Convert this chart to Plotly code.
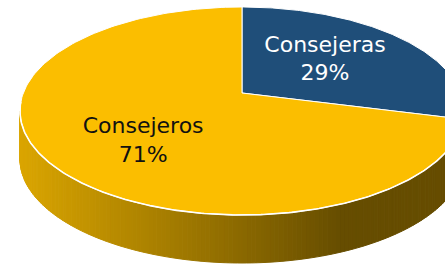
import numpy as np
import plotly.graph_objects as go

# ---- data ----
labels = ["Consejeras", "Consejeros"]
values = [29, 71]
slice_colors = ["#1F4E79", "#FBBE00"]
text_colors = ["#FFFFFF", "#111111"]

# ---- 3D pie geometry (style) ----
CX, CY = 242.0, 93.0      # projected pie centre
A, B = 218.7, 100.9       # horizontal / vertical radii before perspective
G = 0.173                 # perspective strength
DEPTH = 48.0              # thickness of the pie
LABEL_R = [0.5, 0.56]
LABEL_NUDGE = [(1.0, -3.0), (4.0, 12.0)]


def proj(theta_deg, r=1.0):
    t = np.radians(theta_deg)
    u = r * np.sin(t)
    v = -r * np.cos(t)
    w = 1.0 - G * v
    return CX + A * u / w, CY + B * v / w


def hex_rgb(h):
    h = h.lstrip("#")
    return tuple(int(h[i:i + 2], 16) for i in (0, 2, 4))


def shade(hexcol, x):
    f0, f1 = 0.87, 0.41
    k = np.clip((x - 22.0) / (340.0 - 22.0), 0, 1)
    f = f0 + (f1 - f0) * k
    r, g, b = hex_rgb(hexcol)
    return "rgb(%d,%d,%d)" % (r * f, g * f, b * f)


total = float(sum(values))
bounds = np.concatenate([[0.0], np.cumsum(values) / total * 360.0])


def slice_of(theta):
    th = theta % 360.0
    for i in range(len(values)):
        if bounds[i] <= th < bounds[i + 1]:
            return i
    return len(values) - 1


fig = go.Figure()

# ---- side wall (front half), drawn as shaded strips ----
t_right = np.degrees(np.arccos(-G))
t_left = 360.0 - t_right
edges = np.linspace(t_right, t_left, 161)
for t0, t1 in zip(edges[:-1], edges[1:]):
    x0, y0 = proj(t0)
    x1, y1 = proj(t1)
    idx = slice_of((t0 + t1) / 2)
    col = shade(slice_colors[idx], (x0 + x1) / 2)
    fig.add_trace(go.Scatter(
        x=[x0, x1, x1, x0, x0], y=[y0, y1, y1 + DEPTH, y0 + DEPTH, y0],
        mode="lines", fill="toself", fillcolor=col,
        line=dict(color=col, width=1), hoverinfo="skip"))

# ---- top slices ----
for i in range(len(values)):
    ts = np.linspace(bounds[i], bounds[i + 1], 200)
    xs, ys = proj(ts)
    xs = np.concatenate([[CX], xs, [CX]])
    ys = np.concatenate([[CY], ys, [CY]])
    fig.add_trace(go.Scatter(
        x=xs, y=ys, mode="lines", fill="toself",
        fillcolor=slice_colors[i], line=dict(color="white", width=1),
        hoverinfo="skip"))

# white rim between top face and wall
ts = np.linspace(t_right - 20, t_left + 5, 300)
xs, ys = proj(ts)
fig.add_trace(go.Scatter(x=xs, y=ys, mode="lines",
                         line=dict(color="white", width=1.6), hoverinfo="skip"))

# ---- labels ----
for i in range(len(values)):
    mid = (bounds[i] + bounds[i + 1]) / 2
    lx, ly = proj(mid, LABEL_R[i])
    lx += LABEL_NUDGE[i][0]
    ly += LABEL_NUDGE[i][1]
    fig.add_trace(go.Scatter(
        x=[lx], y=[ly], mode="text",
        text=["%s<br>%d%%" % (labels[i], round(values[i] / total * 100))],
        textposition="middle center",
        textfont=dict(family="DejaVu Sans", size=22, color=text_colors[i]),
        hoverinfo="skip"))

fig.update_layout(
    width=445, height=264, autosize=False,
    margin=dict(l=0, r=0, t=0, b=0),
    paper_bgcolor="white", plot_bgcolor="white",
    showlegend=False,
    xaxis=dict(range=[0, 445], visible=False, fixedrange=True),
    yaxis=dict(range=[264, 0], visible=False, fixedrange=True),
)

fig.write_html("out.html", config={"displayModeBar": False},
               post_script="document.body.style.margin='0';")
